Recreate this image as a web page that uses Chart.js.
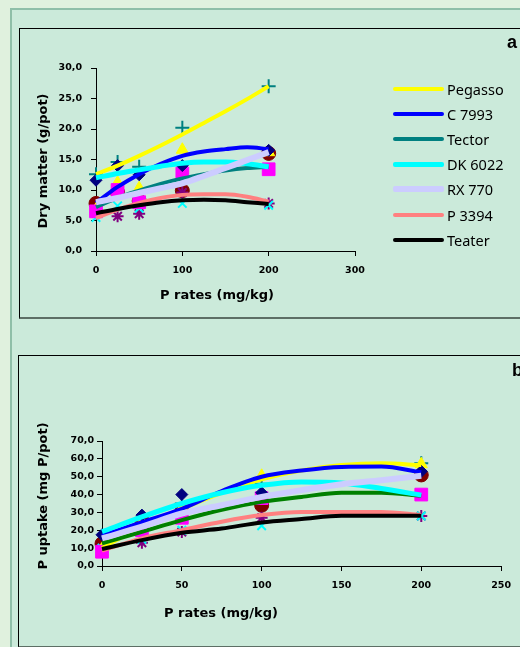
<!DOCTYPE html>
<html>
<head>
<meta charset="utf-8">
<script src="https://cdn.jsdelivr.net/npm/chart.js@4.4.1/dist/chart.umd.min.js"></script>
<style>
body{margin:0;width:520px;height:647px;overflow:hidden;background:#e0f1de;position:relative;font-family:"DejaVu Sans",sans-serif;color:#000}
.frame{position:absolute;left:10px;top:8px;width:540px;height:680px;border:2px solid #8fbfa8;background:#cbeada;box-sizing:border-box}
.box{position:absolute;border-top:1px solid #000;border-left:1px solid #000;border-bottom:2px solid #5d6f65;box-sizing:border-box}
#boxA{left:19px;top:28px;width:520px;height:291px}
#boxB{left:18px;top:355px;width:520px;height:293px}
canvas{position:absolute}
#chartA{left:19px;top:28px}
#chartB{left:18px;top:355px}
.tag{position:absolute;font:bold 18px "Liberation Sans",sans-serif}
.xt,.yt{position:absolute;font:bold 13px "DejaVu Sans",sans-serif;white-space:nowrap}
.xt{transform:translate(-50%,-50%)}
.yt{transform:translate(-50%,-50%) rotate(-90deg)}
#legendA{position:absolute;left:393px;top:76px;font:14.5px "Noto Sans",sans-serif}
#legendA div{height:25.2px;display:flex;align-items:center}
#legendA span{display:inline-block;width:51px;border-radius:2px;margin-right:3px}
</style>
</head>
<body>
<div class="frame"></div>
<div class="box" id="boxA"></div>
<div class="box" id="boxB"></div>
<canvas id="chartA" width="501" height="290"></canvas>
<canvas id="chartB" width="502" height="291"></canvas>
<div class="tag" style="left:507px;top:32px">a</div>
<div class="tag" style="left:512px;top:360px">b</div>
<div class="yt" style="left:42px;top:161px">Dry matter (g/pot)</div>
<div class="xt" style="left:217px;top:294px">P rates (mg/kg)</div>
<div class="yt" style="left:42px;top:496px">P uptake (mg P/pot)</div>
<div class="xt" style="left:221px;top:612px">P rates (mg/kg)</div>
<div id="legendA"></div>
<script>
// measured P rates and the rates used for the fitted curves
const rates = [0, 25, 50, 100, 200];
const fitRates = [0, 25, 50, 75, 100, 125, 150, 175, 200];

const cultivars = ['Pegasso', 'C 7993', 'Tector', 'DK 6022', 'RX 770', 'P 3394', 'Teater'];
const lineColorsA = ['#ffff00', '#0000ff', '#008080', '#00ffff', '#ccccff', '#ff8080', '#000000'];
const lineColorsB = ['#ffff00', '#0000ff', '#008000', '#00ffff', '#ccccff', '#ff8080', '#000000'];
const lineWidths = [4, 4, 4, 5, 6, 4, 4];

// excel default markers
const markerStyles = ['rectRot', 'rect', 'triangle', 'crossRot', 'star', 'circle', 'cross'];
const markerColors = ['#000080', '#ff00ff', '#ffff00', '#00ffff', '#800080', '#800000', '#008080'];
const markerSizes = [6, 9, 7, 6, 6, 7, 7];

// a: dry matter (g/pot), measured points, one row per marker
const dryMatterPts = [
  [11.6, 14.0, 12.5, 14.0, 16.5],  // diamond
  [6.5, 10.0, 8.0, 12.7, 13.4],    // square
  [6.8, 11.2, 10.3, 16.6, 16.2],   // triangle
  [5.5, 7.4, 7.0, 7.8, 7.5],       // x
  [6.2, 5.7, 6.1, 9.6, 7.8],       // star
  [7.8, 9.6, 8.2, 9.9, 16.0],      // circle
  [12.6, 14.6, 13.8, 20.2, 27.0]   // plus
];
// a: fitted curves, one row per cultivar
const dryMatterFit = [
  [12.6, 14.0, 15.6, 17.3, 19.1, 21.0, 22.9, 24.9, 27.0],
  [7.9, 10.5, 12.6, 14.3, 15.6, 16.3, 16.7, 17.0, 16.7],
  [7.2, 8.7, 9.9, 11.0, 11.9, 12.6, 13.2, 13.6, 13.8],
  [12.0, 12.7, 13.3, 13.9, 14.4, 14.6, 14.6, 14.3, 13.8],
  [8.0, 8.7, 9.5, 10.3, 11.1, 12.3, 13.6, 14.9, 16.2],
  [5.4, 6.8, 7.9, 8.7, 9.2, 9.3, 9.3, 8.9, 8.1],
  [6.2, 6.9, 7.5, 8.0, 8.3, 8.4, 8.3, 8.0, 7.7]
];

// b: P uptake (mg P/pot)
const uptakePts = [
  [17.5, 28.5, 40.0, 41.0, 53.0],
  [8.0, 20.0, 27.0, 38.0, 40.0],
  [9.5, 24.5, 32.0, 50.5, 57.0],
  [10.0, 15.0, 20.0, 22.5, 28.0],
  [10.0, 13.0, 19.0, 27.0, 28.0],
  [12.5, 25.0, 30.5, 34.0, 51.0],
  [12.0, 27.0, 35.0, 46.0, 57.5]
];
const uptakeFit = [
  [10.0, 22.0, 32.0, 41.0, 48.5, 53.5, 56.5, 57.5, 56.5],
  [17.0, 24.5, 32.0, 42.0, 50.0, 53.5, 55.5, 55.7, 52.5],
  [12.7, 19.2, 25.7, 31.5, 35.9, 38.7, 41.0, 41.0, 39.3],
  [19.2, 27.5, 35.0, 41.0, 45.2, 47.1, 46.5, 43.4, 39.7],
  [15.5, 22.0, 29.4, 34.0, 38.7, 42.5, 45.8, 48.0, 50.5],
  [8.6, 15.5, 20.1, 24.8, 28.5, 30.3, 30.3, 30.3, 28.5],
  [9.5, 14.5, 18.6, 21.0, 24.4, 26.3, 28.1, 28.1, 28.1]
];

const tickFont = {family: 'DejaVu Sans', size: 9.5, weight: 'bold'};

function buildDatasets(pts, fit, colors) {
  const ds = [];
  pts.forEach((row, i) => {
    const filled = ['rectRot', 'rect', 'triangle', 'circle'].includes(markerStyles[i]);
    ds.push({
      data: row.map((v, j) => ({x: rates[j], y: v})),
      showLine: false,
      pointStyle: markerStyles[i],
      pointRadius: markerSizes[i],
      pointBorderWidth: filled ? 1 : 2,
      pointBackgroundColor: markerColors[i],
      pointBorderColor: markerColors[i],
      clip: false,
      order: 10
    });
  });
  fit.forEach((row, i) => {
    ds.push({
      label: cultivars[i],
      data: row.map((v, j) => ({x: fitRates[j], y: v})),
      borderColor: colors[i],
      borderWidth: lineWidths[i],
      pointRadius: 0,
      cubicInterpolationMode: 'monotone',
      clip: false,
      order: 6 - i
    });
  });
  return ds;
}

function makeChart(id, o) {
  new Chart(document.getElementById(id), {
    type: 'line',
    data: {datasets: buildDatasets(o.pts, o.fit, o.colors)},
    options: {
      responsive: false,
      animation: false,
      devicePixelRatio: 1,
      layout: {padding: o.padding},
      plugins: {legend: {display: false}, tooltip: {enabled: false}},
      scales: {
        x: {
          type: 'linear', min: 0, max: o.xMax,
          ticks: {stepSize: o.xStep, color: '#000', font: tickFont, padding: 9, maxRotation: 0},
          grid: {drawOnChartArea: false, color: '#000', tickLength: 5},
          border: {color: '#000'},
          afterFit: s => { s.height = o.xH; }
        },
        y: {
          min: 0, max: o.yMax,
          ticks: {stepSize: o.yStep, color: '#000', font: tickFont, padding: o.yPad,
                  callback: v => v.toFixed(1).replace('.', ',')},
          grid: {drawOnChartArea: false, color: '#000', tickLength: 5},
          border: {color: '#000'},
          afterFit: s => { s.width = o.yW; }
        }
      }
    }
  });
}

makeChart('chartA', {
  pts: dryMatterPts, fit: dryMatterFit, colors: lineColorsA,
  xMax: 300, xStep: 100, yMax: 30, yStep: 5,
  padding: {left: 0, top: 40, right: 165, bottom: 0},
  xH: 67, yW: 77, yPad: 9
});

makeChart('chartB', {
  pts: uptakePts, fit: uptakeFit, colors: lineColorsB,
  xMax: 250, xStep: 50, yMax: 70, yStep: 10,
  padding: {left: 0, top: 86, right: 16, bottom: 0},
  xH: 80, yW: 84, yPad: 3
});

// legend for panel a
const legend = document.getElementById('legendA');
cultivars.forEach((name, i) => {
  const row = document.createElement('div');
  const sw = document.createElement('span');
  sw.style.height = lineWidths[i] + 'px';
  sw.style.background = lineColorsA[i];
  row.appendChild(sw);
  row.appendChild(document.createTextNode(name));
  legend.appendChild(row);
});
</script>
</body>
</html>
